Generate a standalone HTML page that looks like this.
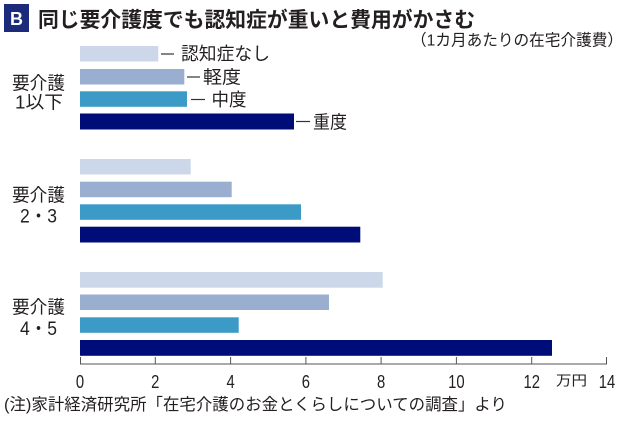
<!DOCTYPE html>
<html>
<head>
<meta charset="utf-8">
<style>
  html,body{margin:0;padding:0;background:#fff;}
  svg{display:block;}
  text{font-family:"Liberation Sans","Noto Sans CJK JP",sans-serif;fill:#231f20;}
  .tick{font-size:18.5px;}
</style>
</head>
<body>
<svg width="630" height="421" viewBox="0 0 630 421" xmlns="http://www.w3.org/2000/svg">
  <rect width="630" height="421" fill="#fff"/>

  <!-- Title -->
  <rect x="4" y="4" width="25" height="28" fill="#1b2a7b"/>
  <text x="16.5" y="25" text-anchor="middle" font-size="18" font-weight="bold" style="fill:#fff">B</text>
  <text x="38" y="27" font-size="21" font-weight="bold" textLength="437" lengthAdjust="spacingAndGlyphs">同じ要介護度でも認知症が重いと費用がかさむ</text>
  <text x="411" y="45.5" font-size="16" textLength="212" lengthAdjust="spacingAndGlyphs">（1カ月あたりの在宅介護費）</text>

  <!-- Group 1 bars -->
  <rect x="80" y="46" width="78.3" height="15.5" fill="#cdd7ea"/>
  <rect x="80" y="69" width="104.3" height="15.5" fill="#9aaed0"/>
  <rect x="80" y="91.3" width="107" height="15.5" fill="#3b9ac6"/>
  <rect x="80" y="113.5" width="214" height="16" fill="#000c78"/>

  <!-- Group 2 bars -->
  <rect x="80" y="159" width="110.7" height="15.5" fill="#cdd7ea"/>
  <rect x="80" y="181.7" width="151.7" height="15.5" fill="#9aaed0"/>
  <rect x="80" y="204.3" width="221" height="15.5" fill="#3b9ac6"/>
  <rect x="80" y="226.7" width="280.3" height="15.8" fill="#000c78"/>

  <!-- Group 3 bars -->
  <rect x="80" y="272" width="302.7" height="15.7" fill="#cdd7ea"/>
  <rect x="80" y="294.5" width="249" height="15.5" fill="#9aaed0"/>
  <rect x="80" y="317.3" width="158.7" height="15.5" fill="#3b9ac6"/>
  <rect x="80" y="340" width="472" height="15.8" fill="#000c78"/>

  <!-- Legend labels -->
  <g stroke="#333" stroke-width="1.2">
    <line x1="161" y1="54" x2="174" y2="54"/>
    <line x1="187" y1="77" x2="200" y2="77"/>
    <line x1="191" y1="99.5" x2="205" y2="99.5"/>
    <line x1="296" y1="121.5" x2="310" y2="121.5"/>
  </g>
  <text x="181" y="60" font-size="18" textLength="89" lengthAdjust="spacingAndGlyphs">認知症なし</text>
  <text x="203" y="83.5" font-size="18" textLength="38" lengthAdjust="spacingAndGlyphs">軽度</text>
  <text x="211.5" y="106" font-size="18" textLength="35" lengthAdjust="spacingAndGlyphs">中度</text>
  <text x="313" y="128.5" font-size="18" textLength="34" lengthAdjust="spacingAndGlyphs">重度</text>

  <!-- Category labels -->
  <text x="12" y="89.5" font-size="18" textLength="53" lengthAdjust="spacingAndGlyphs">要介護</text>
  <text x="15" y="108.5" font-size="18" textLength="48" lengthAdjust="spacingAndGlyphs">1以下</text>
  <text x="12" y="201.5" font-size="18" textLength="53" lengthAdjust="spacingAndGlyphs">要介護</text>
  <text x="20" y="222.5" font-size="19" textLength="37" lengthAdjust="spacingAndGlyphs">2・3</text>
  <text x="12" y="313.5" font-size="18" textLength="53" lengthAdjust="spacingAndGlyphs">要介護</text>
  <text x="20" y="335" font-size="19" textLength="37" lengthAdjust="spacingAndGlyphs">4・5</text>

  <!-- Axis -->
  <g stroke="#555" stroke-width="1">
    <line x1="80" y1="364" x2="607" y2="364"/>
    <line x1="80.5" y1="357" x2="80.5" y2="364"/>
    <line x1="155.3" y1="357" x2="155.3" y2="364"/>
    <line x1="230.6" y1="357" x2="230.6" y2="364"/>
    <line x1="305.9" y1="357" x2="305.9" y2="364"/>
    <line x1="381.1" y1="357" x2="381.1" y2="364"/>
    <line x1="456.4" y1="357" x2="456.4" y2="364"/>
    <line x1="531.7" y1="357" x2="531.7" y2="364"/>
    <line x1="606.5" y1="357" x2="606.5" y2="364"/>
  </g>
  <g transform="translate(80,388) scale(0.8,1)"><text class="tick" x="0" y="0" text-anchor="middle">0</text></g>
  <g transform="translate(155.3,388) scale(0.8,1)"><text class="tick" x="0" y="0" text-anchor="middle">2</text></g>
  <g transform="translate(230.6,388) scale(0.8,1)"><text class="tick" x="0" y="0" text-anchor="middle">4</text></g>
  <g transform="translate(305.9,388) scale(0.8,1)"><text class="tick" x="0" y="0" text-anchor="middle">6</text></g>
  <g transform="translate(381.1,388) scale(0.8,1)"><text class="tick" x="0" y="0" text-anchor="middle">8</text></g>
  <g transform="translate(456.4,388) scale(0.8,1)"><text class="tick" x="0" y="0" text-anchor="middle">10</text></g>
  <g transform="translate(531.7,388) scale(0.8,1)"><text class="tick" x="0" y="0" text-anchor="middle">12</text></g>
  <g transform="translate(607,388) scale(0.8,1)"><text class="tick" x="0" y="0" text-anchor="middle">14</text></g>
  <text x="556" y="385.5" font-size="14" textLength="31" lengthAdjust="spacingAndGlyphs">万円</text>

  <!-- Footnote -->
  <text x="4" y="410" font-size="16.5" textLength="503" lengthAdjust="spacingAndGlyphs">(注)家計経済研究所「在宅介護のお金とくらしについての調査」より</text>
</svg>
</body>
</html>
